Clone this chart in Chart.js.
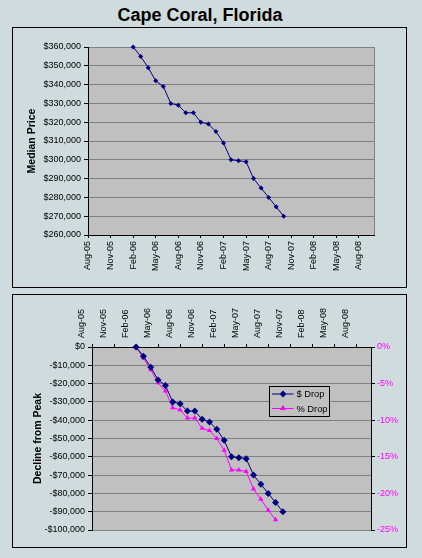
<!DOCTYPE html>
<html>
<head>
<meta charset="utf-8">
<script src="https://cdn.jsdelivr.net/npm/chart.js@4.4.1/dist/chart.umd.min.js"></script>
<style>
html,body{margin:0;padding:0;background:#CFDBDC;width:422px;height:558px;overflow:hidden;font-family:"Liberation Sans",Arial,sans-serif;}
#title{position:absolute;left:0;top:4px;width:400px;text-align:center;font-weight:bold;font-size:18px;line-height:22px;color:#000;}
.box{position:absolute;left:12px;width:393px;border:1px solid #000;}
#box1{top:27px;height:259px;}
#box2{top:294px;height:252px;}
canvas{display:block;}
</style>
</head>
<body>
<div id="title">Cape Coral, Florida</div>
<div class="box" id="box1"><canvas id="c1" width="393" height="259"></canvas></div>
<div class="box" id="box2"><canvas id="c2" width="393" height="252"></canvas></div>
<script>
// ---- data ----
const months = ['Feb-06','Mar-06','Apr-06','May-06','Jun-06','Jul-06','Aug-06','Sep-06','Oct-06','Nov-06','Dec-06',
  'Jan-07','Feb-07','Mar-07','Apr-07','May-07','Jun-07','Jul-07','Aug-07','Sep-07','Oct-07'];
const medianPrice = [360000,355000,349000,342000,339000,330000,329000,325000,325000,320000,319000,
  315000,309000,300000,299500,299000,290000,285000,280000,275000,270000];
const dollarDrop = [0,-5000,-11000,-18000,-21000,-30000,-31000,-35000,-35000,-39500,-41000,
  -45000,-51000,-60000,-60500,-61000,-70000,-75000,-80000,-85000,-90000];
const pctDrop = [0,-1.5,-3.1,-4.9,-6.0,-8.3,-8.6,-9.7,-9.7,-11.1,-11.4,
  -12.5,-14.1,-16.8,-16.8,-17.0,-19.4,-20.8,-22.3,-23.6];
const xTickLabels = ['Aug-05','Nov-05','Feb-06','May-06','Aug-06','Nov-06','Feb-07','May-07','Aug-07','Nov-07','Feb-08','May-08','Aug-08'];
const seriesNames = ['$ Drop','% Drop'];

// ---- helpers ----
const MON = ['Jan','Feb','Mar','Apr','May','Jun','Jul','Aug','Sep','Oct','Nov','Dec'];
function monthNum(lbl){ const p = lbl.split('-'); return (2000 + parseInt(p[1],10)) * 12 + MON.indexOf(p[0]); }
const base = monthNum(xTickLabels[0]);
const xOf = lbl => monthNum(lbl) - base;
const xMax = xOf(xTickLabels[xTickLabels.length-1]) + 2;

const NAVY = '#000080', PINK = '#FF00FF', GRID = '#808080';
Chart.defaults.font.family = '"Liberation Sans", Arial, sans-serif';
Chart.defaults.font.size = 9;
Chart.defaults.color = '#000';

const money = v => (v < 0 ? '-' : '') + '$' + Math.abs(v).toLocaleString('en-US');

const plotBg = {
  id: 'plotBg',
  beforeDraw(chart){
    const {ctx, chartArea:a} = chart;
    ctx.save(); ctx.fillStyle = '#C0C0C0';
    ctx.fillRect(a.left, a.top, a.right - a.left, a.bottom - a.top);
    ctx.restore();
  },
  beforeDatasetsDraw(chart, args, opts){
    if (!opts.rightBorder) return;
    const {ctx, chartArea:a} = chart;
    ctx.save(); ctx.strokeStyle = GRID; ctx.lineWidth = 1;
    ctx.beginPath(); ctx.moveTo(Math.round(a.right)+0.5, a.top); ctx.lineTo(Math.round(a.right)+0.5, a.bottom); ctx.stroke();
    ctx.restore();
  }
};

function xScale(position, pad){
  return {
    type: 'linear', position, min: 0, max: xMax,
    afterBuildTicks: s => { s.ticks = xTickLabels.map((_, i) => ({value: i * 3})); },
    afterFit: s => { s.height = 52; },
    grid: {display: true, drawOnChartArea: false, drawTicks: true, tickLength: 3, tickColor: '#000'},
    border: {display: true, color: '#000', width: 1},
    ticks: {autoSkip: false, minRotation: 90, maxRotation: 90, padding: pad,
      callback: v => xTickLabels[v / 3] || ''}
  };
}

// ---- top chart ----
new Chart(document.getElementById('c1'), {
  type: 'line',
  data: {datasets: [{
    label: 'Median Price',
    data: months.map((m, i) => ({x: xOf(m), y: medianPrice[i]})),
    borderColor: NAVY, backgroundColor: NAVY, borderWidth: 1,
    pointStyle: 'rectRot', pointRadius: 2.5, pointBorderWidth: 0, tension: 0, clip: false
  }]},
  options: {
    responsive: false, animation: false, devicePixelRatio: 1,
    layout: {padding: {left: 0, top: 19, right: 32, bottom: 0}},
    plugins: {legend: {display: false}, tooltip: {enabled: false}, plotBg: {rightBorder: true}},
    scales: {
      x: xScale('bottom', 3),
      y: {
        type: 'linear', min: 260000, max: 360000,
        afterFit: s => { s.width = 75; },
        ticks: {stepSize: 10000, padding: 3, callback: money},
        grid: {color: GRID, tickColor: '#000', tickLength: 4, lineWidth: 1},
        border: {color: '#000', width: 1},
        title: {display: true, text: 'Median Price', font: {size: 10.5, weight: 'bold'}, padding: {top: 13, bottom: 0}}
      }
    }
  },
  plugins: [plotBg]
});

// ---- bottom chart ----
const legendBox = {
  id: 'legendBox',
  afterDraw(chart){
    const {ctx, chartArea:a} = chart;
    const bx = Math.round(a.left + 177) + 0.5, by = Math.round(a.top + 39) + 0.5, bw = 60, bh = 30;
    ctx.save();
    ctx.fillStyle = '#C0C0C0'; ctx.fillRect(bx, by, bw, bh);
    ctx.strokeStyle = '#000'; ctx.lineWidth = 1; ctx.strokeRect(bx, by, bw, bh);
    chart.data.datasets.forEach((ds, i) => {
      const cy = by + 7.5 + i * 14.5;
      ctx.strokeStyle = ds.borderColor; ctx.lineWidth = 1;
      ctx.beginPath(); ctx.moveTo(bx + 2.5, cy); ctx.lineTo(bx + 24, cy); ctx.stroke();
      Chart.helpers.drawPoint(ctx, {pointStyle: ds.pointStyle, radius: ds.pointRadius, borderWidth: 0, rotation: 0}, bx + 13.5, cy);
      ctx.fillStyle = ds.borderColor;
      ctx.fill();
      ctx.fillStyle = '#000';
      ctx.font = '9.3px "Liberation Sans", Arial, sans-serif';
      ctx.textBaseline = 'middle'; ctx.textAlign = 'left';
      ctx.fillText(ds.label, bx + 27, cy + 0.5);
    });
    ctx.restore();
  }
};

new Chart(document.getElementById('c2'), {
  type: 'line',
  data: {datasets: [
    {
      label: seriesNames[0], yAxisID: 'y',
      data: months.map((m, i) => ({x: xOf(m), y: dollarDrop[i]})),
      borderColor: NAVY, backgroundColor: NAVY, borderWidth: 1,
      pointStyle: 'rectRot', pointRadius: 3.5, pointBorderWidth: 0, tension: 0, clip: false
    },
    {
      label: seriesNames[1], yAxisID: 'y2',
      data: pctDrop.map((v, i) => ({x: xOf(months[i]), y: v})),
      borderColor: PINK, backgroundColor: PINK, borderWidth: 1,
      pointStyle: 'triangle', pointRadius: 3, pointBorderWidth: 0, tension: 0, clip: false
    }
  ]},
  options: {
    responsive: false, animation: false, devicePixelRatio: 1,
    layout: {padding: {left: 0, top: 0, right: 0, bottom: 17}},
    plugins: {legend: {display: false}, tooltip: {enabled: false}, plotBg: {rightBorder: false}},
    scales: {
      x: xScale('top', 6),
      y: {
        type: 'linear', position: 'left', min: -100000, max: 0,
        afterFit: s => { s.width = 79; },
        ticks: {stepSize: 10000, padding: 3, callback: money},
        grid: {color: GRID, tickColor: '#000', tickLength: 4, lineWidth: 1},
        border: {color: '#000', width: 1},
        title: {display: true, text: 'Decline from Peak', font: {size: 10.5, weight: 'bold'}, padding: {top: 18.5, bottom: 0}}
      },
      y2: {
        type: 'linear', position: 'right', min: -25, max: 0,
        afterFit: s => { s.width = 35; },
        ticks: {stepSize: 5, padding: 2, color: PINK, callback: v => v + '%'},
        grid: {drawOnChartArea: false, tickColor: '#000', tickLength: 4},
        border: {color: '#000', width: 1}
      }
    }
  },
  plugins: [plotBg, legendBox]
});
</script>
</body>
</html>
